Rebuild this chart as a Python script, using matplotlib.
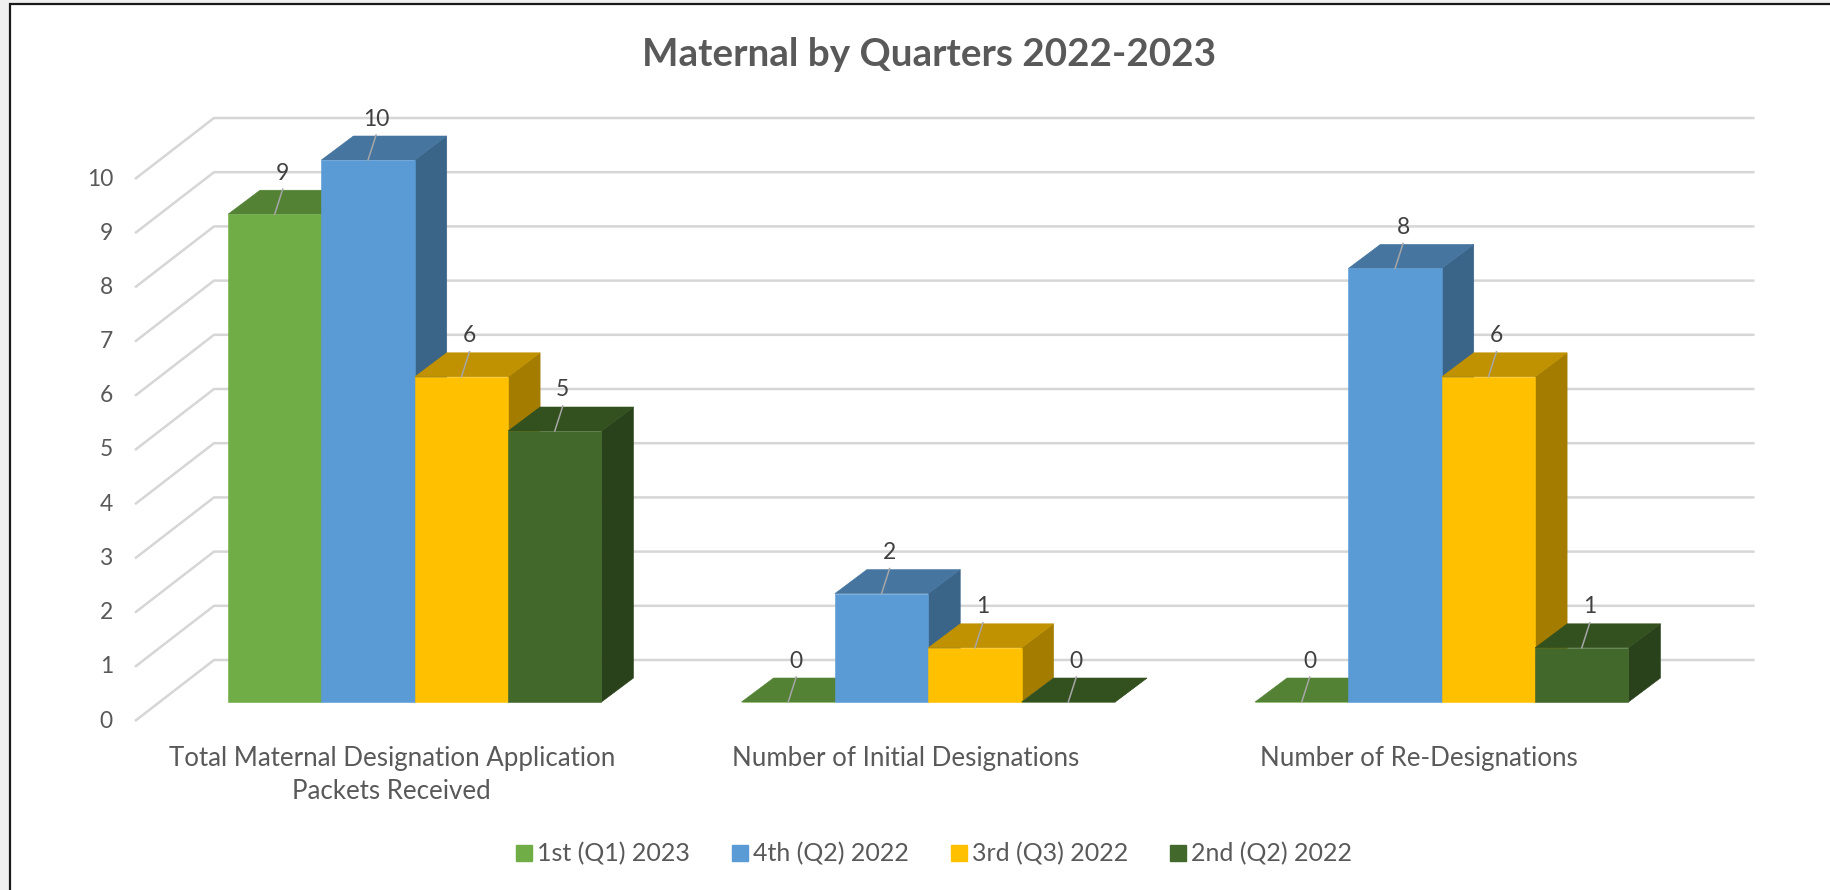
import matplotlib.pyplot as plt
from matplotlib.patches import Polygon, Rectangle, Patch

categories = ["Total Maternal Designation Application\nPackets Received",
              "Number of Initial Designations",
              "Number of Re-Designations"]
series_names = ["1st (Q1) 2023", "4th (Q2) 2022", "3rd (Q3) 2022", "2nd (Q2) 2022"]
q1_2023 = [9, 0, 0]
q4_2022 = [10, 2, 8]
q3_2022 = [6, 1, 6]
q2_2022 = [5, 0, 1]
y_ticks = list(range(0, 11))

front_colors = ['#70AD47', '#5B9BD5', '#FFC000', '#43682B']
top_colors = ['#548235', '#4675A0', '#C09100', '#33511F']
side_colors = ['#4B7A2F', '#3A6488', '#A47D00', '#2A421B']

plt.rcParams['font.family'] = ['Lato', 'DejaVu Sans']
TXT = '#595959'

W, H = 1830, 890
PXC = 513.5   # px per category
PXU = 54.2    # px per value unit
X0, Y0 = 135, 721  # front plane origin in px (from left / from top)


def shift(dx, dy):
    # oblique depth offset, pixels -> data units
    return dx / PXC, dy / PXU


FRONT = shift(23, 19)
BACK = shift(55, 43)
WALL = shift(79, 61)

fig = plt.figure(figsize=(W / 100, H / 100), dpi=100)
fig.patch.set_facecolor('#F0F0F0')
fig.patches.append(Rectangle((10 / W, -0.1), 1.2, 1.1 - 4.5 / H, transform=fig.transFigure,
                             facecolor='white', edgecolor='#1A1A1A', lw=1.6, zorder=-5))

ax = fig.add_axes([0, 0, 1, 1])
ax.axis('off')
ax.set_xlim(-X0 / PXC, (W - X0) / PXC)
ax.set_ylim(-(H - Y0) / PXU, Y0 / PXU)

ncat = len(categories)
for v in y_ticks:
    ax.plot([0, WALL[0], ncat + WALL[0]], [v, v + WALL[1], v + WALL[1]],
            color='#D6D6D6', lw=1.8, solid_capstyle='butt', zorder=1)
    ax.text(-22 / PXC, v, str(v), ha='right', va='center', fontsize=16.4, color=TXT)

values = [q1_2023, q4_2022, q3_2022, q2_2022]
bw = 1 / 5.5
gap = (1 - 4 * bw) / 2
for s, vals in enumerate(values):
    xs = [i + gap + s * bw + FRONT[0] for i in range(ncat)]
    ax.bar(xs, vals, width=bw, bottom=FRONT[1], align='edge', color=front_colors[s],
           edgecolor=front_colors[s], lw=0.4, zorder=4 + 3 * s)
    for fx, v in zip(xs, vals):
        bx = fx - FRONT[0] + BACK[0]
        ax.add_patch(Polygon([(fx + bw, FRONT[1]), (fx + bw, FRONT[1] + v),
                              (bx + bw, BACK[1] + v), (bx + bw, BACK[1])],
                             facecolor=side_colors[s], edgecolor=side_colors[s], lw=0.4, zorder=2 + 3 * s))
        ax.add_patch(Polygon([(fx, FRONT[1] + v), (fx + bw, FRONT[1] + v),
                              (bx + bw, BACK[1] + v), (bx, BACK[1] + v)],
                             facecolor=top_colors[s], edgecolor=top_colors[s], lw=0.4, zorder=3 + 3 * s))
        cx, ty = fx + bw / 2, FRONT[1] + v
        ax.plot([cx, cx + 8 / PXC], [ty, ty + 25 / PXU], color='#A6A6A6', lw=1.1, zorder=30)
        ax.text(cx + 8 / PXC, ty + 41 / PXU, str(v), ha='center', va='center',
                fontsize=16.4, color='#404040', zorder=31)

for i, cat in enumerate(categories):
    ax.text(i + 0.5, -25 / PXU, cat, ha='center', va='top', fontsize=18.6,
            color=TXT, linespacing=1.42)

fig.text(0.5075, 1 - 55 / H, "Maternal by Quarters 2022-2023", ha='center', va='center',
         fontsize=27.8, fontweight='bold', color=TXT)

handles = [Patch(facecolor=c, edgecolor=c) for c in front_colors]
fig.legend(handles, series_names, loc='center', bbox_to_anchor=(0.5105, 1 - 854 / H), ncol=4,
           frameon=False, fontsize=18, labelcolor=TXT, handlelength=0.64, handleheight=0.64,
           handletextpad=0.22, columnspacing=1.66)

fig.savefig('out.png', dpi=100, facecolor=fig.get_facecolor())
